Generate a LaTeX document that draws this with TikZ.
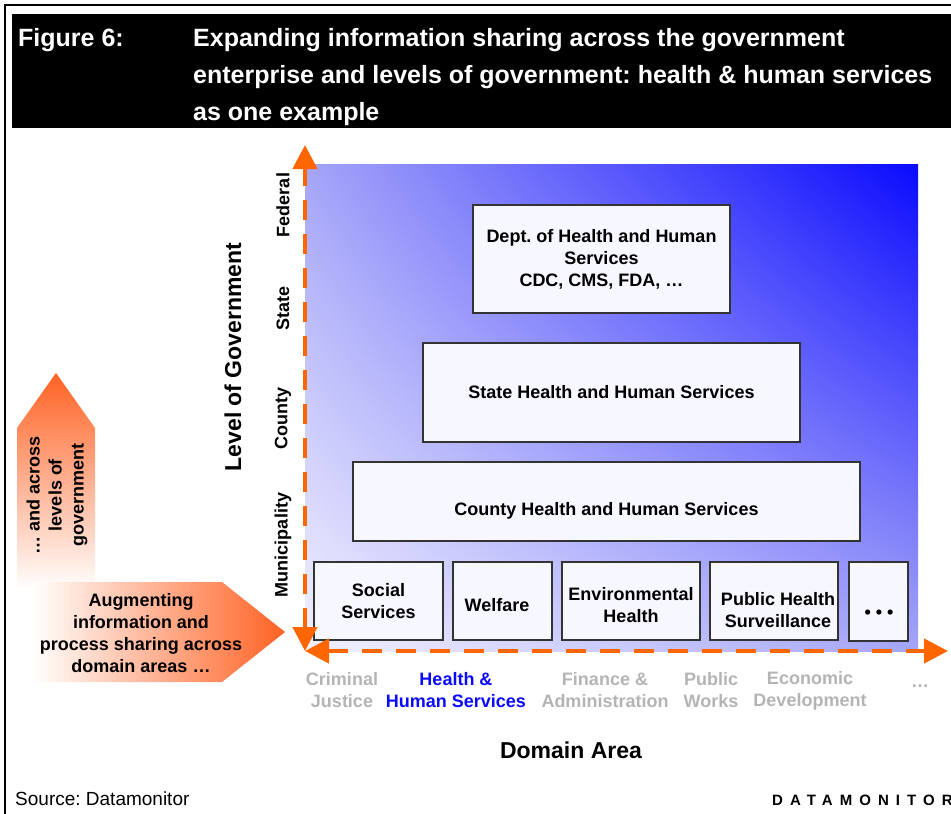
\documentclass[tikz,border=0pt]{standalone}
\usepackage{fontspec}
\setmainfont{Liberation Sans}
\frenchspacing
\usetikzlibrary{arrows.meta,shadings}
\definecolor{axisorange}{RGB}{255,102,0}
\definecolor{arroworange}{RGB}{255,98,36}
\definecolor{gradhi}{RGB}{10,10,255}
\definecolor{gradmid}{RGB}{165,165,248}
\definecolor{gradlo}{RGB}{242,242,255}
\definecolor{domaingray}{RGB}{180,180,180}
\definecolor{domainblue}{RGB}{10,10,255}
\begin{document}
\begin{tikzpicture}[x=1pt, y=-1pt,
		every node/.style={inner sep=0pt, align=center, font=\fontsize{18}{22}\selectfont\bfseries},
		titletext/.style={text=white, font=\fontsize{25}{37}\selectfont\bfseries},
		govbox/.style={draw=black!80, line width=1.2pt, fill=blue!3},
		levellabel/.style={rotate=90},
		domainlabel/.style={text=domaingray},
		bigbold/.style={font=\fontsize{23}{27}\selectfont\bfseries},
		axis/.style={draw=axisorange, line width=4.5pt, dash pattern=on 20pt off 14pt,
			{Triangle[length=24pt,width=24pt]}-{Triangle[length=24pt,width=24pt]}}]
		
		\useasboundingbox (0,0) rectangle (951,814);
		
		% frame and title bar
		\draw[line width=2pt] (951,5) -- (5,5) -- (5,814);
		\fill (12,14) rectangle (951,128);
		\node[titletext, anchor=west] (fig) at (18,40) {Figure 6:};
		\node[titletext, anchor=west, align=left] (title) at (193,77)
		{Expanding information sharing across the government\\
			enterprise and levels of government: health \& human services\\
			as one example};
		
		% shaded plane
		\shade[upper left=gradmid, upper right=gradhi, lower left=gradlo, lower right=gradmid]
		(305,164) rectangle (918,651);
		
		% levels of government
		\node[govbox, minimum width=257pt, minimum height=108pt] (federalbox) at (601.5,259)
		{Dept. of Health and Human\\Services\\CDC, CMS, FDA, …};
		\node[govbox, minimum width=377pt, minimum height=99pt] (statebox) at (611.5,392.5)
		{State Health and Human Services};
		\node[govbox, minimum width=507pt, minimum height=79pt] (countybox) at (606.5,501.5) {};
		\node (countytext) at (606.5,511) {County Health and Human Services};
		
		% municipal services
		\node[govbox, minimum width=129pt, minimum height=78pt] (social) at (378.5,601) {};
		\node[govbox, minimum width=99pt, minimum height=78pt] (welfare) at (502.5,601) {};
		\node[govbox, minimum width=138pt, minimum height=78pt] (envhealth) at (631,601) {};
		\node[govbox, minimum width=128pt, minimum height=78pt] (pubhealth) at (774,601) {};
		\node[govbox, minimum width=59pt, minimum height=79pt] (moreserv) at (878.5,601.5) {};
		\node (socialtext) at (378.5,601) {Social\\Services};
		\node (welfaretext) at (497,605) {Welfare};
		\node (envtext) at (631,605) {Environmental\\Health};
		\node (pubtext) at (778,610) {Public Health\\Surveillance};
		\node (moretext) at (879,614) {• • •};
		
		% axes
		\coordinate (origin) at (305,651);
		\coordinate (ytip) at (305,145);
		\coordinate (xtip) at (948,651);
		\draw[axis] (origin) -- (ytip);
		\draw[axis] (origin) -- (xtip);
		
		\node[levellabel] (federal) at (283,205) {Federal};
		\node[levellabel] (state) at (283,308) {State};
		\node[levellabel] (county) at (283,418) {County};
		\node[levellabel] (municipality) at (283,545) {Municipality};
		\node[levellabel, bigbold] (levelgov) at (233,357) {Level of Government};
		
		% domain areas
		\node[domainlabel] (criminal) at (342,690) {Criminal\\Justice};
		\node[text=domainblue] (hhs) at (456,690) {Health \&\\Human Services};
		\node[domainlabel] (finance) at (605,690) {Finance \&\\Administration};
		\node[domainlabel] (works) at (711,690) {Public\\Works};
		\node[domainlabel] (economic) at (810,691) {Economic\\Development};
		\node[domainlabel] (moredomain) at (920,686) {…};
		\node[bigbold] (domainarea) at (571,750) {Domain Area};
		
		% big arrows
		\shade[top color=arroworange, bottom color=white]
		(17,590) -- (17,428) -- (56,373) -- (95,428) -- (95,590) -- cycle;
		\node[levellabel] (acrosslevels) at (57,495) {… and across\\levels of\\government};
		\shade[left color=white, right color=arroworange]
		(32,582) -- (222,582) -- (285,632) -- (222,682) -- (32,682) -- cycle;
		\node (acrossdomains) at (141,633)
		{Augmenting\\information and\\process sharing across\\domain areas …};
		
		% footer
		\node[anchor=west, font=\fontsize{19}{23}\selectfont] (source) at (15,799) {Source: Datamonitor};
		\node[anchor=west, font=\fontsize{15}{18}\selectfont\bfseries\addfontfeature{LetterSpace=47}] (brand)
		at (772,800) {DATAMONITOR};
\end{tikzpicture}
\end{document}
